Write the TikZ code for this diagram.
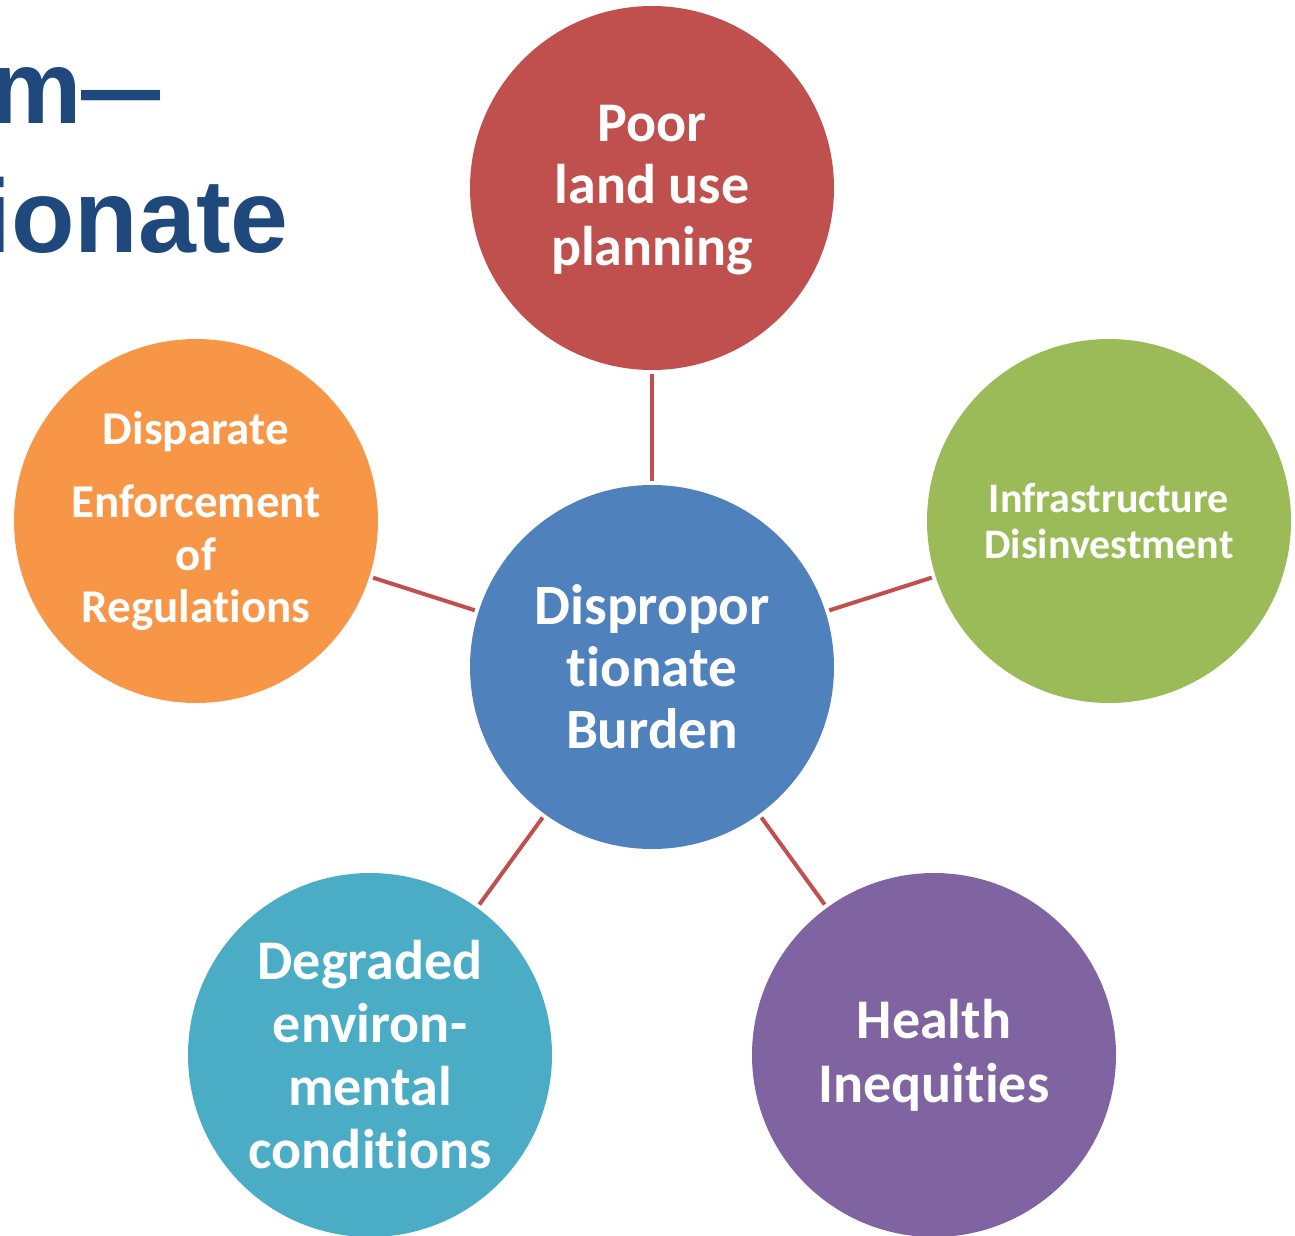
\documentclass[tikz,border=0pt]{standalone}
\usepackage{fontspec}
\setmainfont{Carlito}[Ligatures=NoCommon]
\newfontfamily\titlefont{Liberation Sans}
\definecolor{cred}{HTML}{C0504D}
\definecolor{corange}{HTML}{F79646}
\definecolor{cgreen}{HTML}{9BBB59}
\definecolor{cblue}{HTML}{4F81BD}
\definecolor{cteal}{HTML}{4BACC6}
\definecolor{cpurple}{HTML}{8064A2}
\definecolor{ctitle}{HTML}{1F497D}
\tikzset{
  bubble/.style={circle, minimum size=364pt, inner sep=0pt, outer sep=0pt, draw=none},
  btext/.style={text=white, align=center, font=\bfseries, inner sep=0pt},
  link/.style={draw=cred, line width=4pt, shorten <=4pt, shorten >=4pt},
  titletext/.style={text=ctitle, font=\titlefont\bfseries\fontsize{104}{120}\selectfont, inner sep=0pt, anchor=base east}
}
\begin{document}
\begin{tikzpicture}[x=1pt,y=-1pt]
\useasboundingbox (0,0) rectangle (1295,1235);
\clip (0,0) rectangle (1295,1235);
% title fragments
\node[titletext] (t1) at (161,123) {m\scalebox{0.76}[1]{—}};
\node[titletext] (t2) at (289,252) {ionate};
% circles
\node[bubble, fill=cblue] (c) at (652,667) {};
\node[bubble, fill=cred] (top) at (652,188) {};
\node[bubble, fill=corange] (left) at (196,521) {};
\node[bubble, fill=cgreen] (right) at (1109,521) {};
\node[bubble, fill=cteal] (bl) at (370,1055) {};
\node[bubble, fill=cpurple] (br) at (934,1055) {};
% connectors
\draw[link] (c) -- (top);
\draw[link] (c) -- (left);
\draw[link] (c) -- (right);
\draw[link] (c) -- (bl);
\draw[link] (c) -- (br);
% texts
\node[btext, font=\bfseries\fontsize{56}{62}\selectfont] (ttop) at ([yshift=-2pt]top.center) {Poor\\land use\\planning};
\node[btext, font=\bfseries\fontsize{57}{62}\selectfont] (tc) at (c.center) {Dispropor\\tionate\\Burden};
\node[btext, font=\bfseries\fontsize{47}{52.5}\selectfont] (tleft) at (left.center) {Disparate\\[21pt]Enforcement\\of\\Regulations};
\node[btext, font=\bfseries\fontsize{42}{46}\selectfont] (tright) at (right.center) {Infrastructure\\Disinvestment};
\node[btext, font=\bfseries\fontsize{56}{63}\selectfont] (tbl) at (bl.center) {Degraded\\environ-\\mental\\conditions};
\node[btext, font=\bfseries\fontsize{56}{64}\selectfont] (tbr) at (br.center) {Health\\Inequities};
\end{tikzpicture}
\end{document}
